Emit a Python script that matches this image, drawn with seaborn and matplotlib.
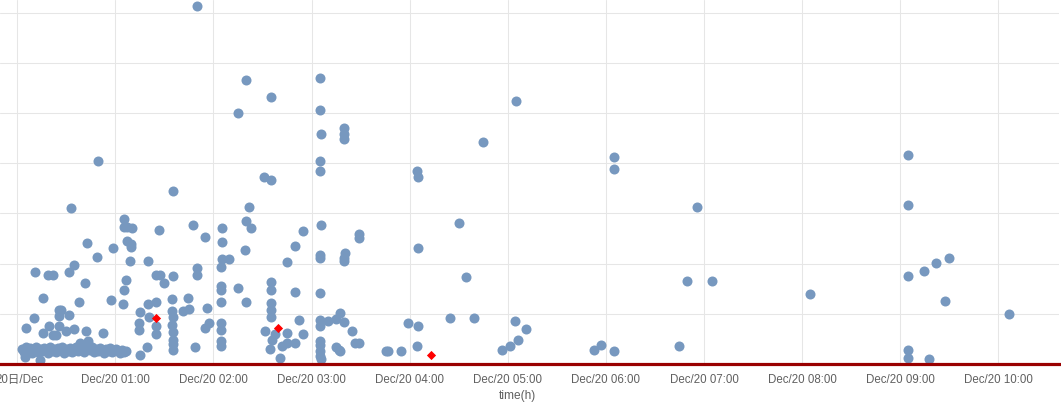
import matplotlib
matplotlib.use("Agg")
import matplotlib.pyplot as plt
import matplotlib.transforms as mtransforms
import seaborn as sns
import pandas as pd

# ---- data: time in hours after 00:00 (Dec 20), value on the y scale ----
blue_time = [
    # left area
    0.075, 0.228, 0.086, 0.177, 0.167, 0.259, 0.259, 0.316, 0.367, 0.323,
    0.422, 0.367, 0.391, 0.422, 0.449, 0.428, 0.524, 0.493, 0.578, 0.527,
    0.578, 0.544, 0.626, 0.690, 0.700, 0.707, 0.809, 0.820, 0.874, 0.955,
    0.972, 0.639, 0.724,
    # dense band near the bottom
    0.048, 0.068, 0.089, 0.109, 0.129, 0.150, 0.170, 0.191, 0.211, 0.231,
    0.252, 0.272, 0.293, 0.313, 0.333, 0.354, 0.374, 0.394, 0.415, 0.435,
    0.456, 0.476, 0.496, 0.517, 0.537, 0.558, 0.578, 0.598, 0.619, 0.639,
    0.660, 0.680, 0.700, 0.721, 0.741, 0.761, 0.782, 0.802, 0.823, 0.843,
    0.863, 0.884, 0.904, 0.925, 0.945, 0.965, 0.986, 1.006, 1.027, 1.047,
    1.067, 1.088, 1.108,
    # 01:00 - 01:30
    1.077, 1.085, 1.088, 1.115, 1.166, 1.115, 1.159, 1.159, 1.108, 1.088,
    1.149,
    1.241, 1.241, 1.251, 1.251, 1.319, 1.329, 1.329, 1.343, 1.411, 1.455,
    1.411, 1.411, 1.411, 1.441, 1.492,
    # 01:30 - 02:00
    1.584, 1.587, 1.577, 1.577, 1.584, 1.577, 1.584, 1.584, 1.584, 1.584,
    1.689, 1.750, 1.737, 1.788, 1.811, 1.832, 1.832, 1.832, 1.913, 1.913,
    1.954, 1.931,
    # 02:00 - 02:30
    2.084, 2.084, 2.084, 2.158, 2.076, 2.076, 2.076, 2.073, 2.080, 2.080,
    2.080, 2.080, 2.247, 2.247, 2.328, 2.328, 2.318, 2.328, 2.359, 2.382,
    # 02:30 - 03:00
    2.512, 2.586, 2.586, 2.586, 2.586, 2.586, 2.586, 2.586, 2.522, 2.630,
    2.596, 2.576, 2.678, 2.695, 2.746, 2.746, 2.746, 2.828, 2.828, 2.828,
    2.872, 2.909, 2.909,
    # 03:00 - 03:30
    3.083, 3.083, 3.093, 3.083, 3.083, 3.093, 3.083, 3.083, 3.083, 3.083,
    3.083, 3.167, 3.249, 3.289, 3.327, 3.412, 3.083, 3.083, 3.083, 3.083,
    3.093, 3.249, 3.275, 3.442, 3.486, 3.327, 3.327, 3.327, 3.337, 3.327,
    3.327, 3.289, 3.486, 3.486,
    # 03:45 - 05:15
    3.758, 3.782, 3.911, 3.983, 4.071, 4.082, 4.082, 4.082, 4.071, 4.408,
    4.500, 4.571, 4.655, 4.744, 4.939, 5.019, 5.101, 5.073, 5.186, 5.081,
    # 05:50 - 07:10
    5.876, 5.950, 6.083, 6.083, 6.083, 6.742, 6.824, 6.932, 7.082,
    # 08:00 onwards
    8.080, 9.077, 9.077, 9.077, 9.243, 9.362, 9.494, 9.454, 10.109, 9.077,
    9.077, 9.291,
]
blue_value = [
    # left area
    0.126, 0.080, 0.706, 1.826, 0.906, 1.306, 0.606, 1.766, 1.766, 0.746,
    0.746, 0.580, 0.580, 1.074, 1.074, 0.946, 0.966, 0.646, 0.686, 1.826,
    1.980, 3.100, 1.226, 1.606, 0.646, 2.414, 2.134, 4.046, 0.606, 1.280,
    2.306, 0.406, 0.460,
    # dense band near the bottom
    0.30, 0.24, 0.34, 0.26, 0.32, 0.22, 0.28, 0.34, 0.24, 0.30,
    0.26, 0.32, 0.28, 0.22, 0.34, 0.26, 0.30, 0.24, 0.32, 0.28,
    0.34, 0.22, 0.30, 0.26, 0.32, 0.24, 0.28, 0.34, 0.26, 0.30,
    0.36, 0.24, 0.32, 0.40, 0.28, 0.34, 0.24, 0.30, 0.26, 0.32,
    0.28, 0.22, 0.30, 0.26, 0.32, 0.24, 0.28, 0.30, 0.26, 0.22,
    0.28, 0.24, 0.26,
    # 01:00 - 01:30
    1.186, 2.886, 2.726, 2.726, 2.706, 2.446, 2.394, 2.340, 1.666, 1.480,
    2.046,
    0.820, 0.666, 1.026, 0.180, 0.326, 2.046, 1.186, 0.926, 1.766, 1.766,
    1.226, 0.760, 0.594, 2.666, 1.620,
    # 01:30 - 02:00
    3.440, 1.746, 1.286, 1.060, 0.926, 0.780, 0.640, 0.480, 0.400, 0.266,
    1.054, 1.086, 1.306, 2.766, 0.326, 7.146, 1.906, 1.766, 2.526, 0.714,
    0.806, 1.106,
    # 02:00 - 02:30
    2.706, 2.426, 2.100, 2.100, 1.940, 1.560, 1.474, 1.226, 0.806, 0.680,
    0.460, 0.360, 5.006, 1.506, 5.666, 2.846, 2.266, 1.226, 3.120, 2.706,
    # 02:30 - 03:00
    3.720, 3.660, 5.326, 1.626, 1.480, 1.214, 1.080, 0.940, 0.646, 0.594,
    0.474, 0.286, 0.106, 0.354, 0.606, 0.414, 2.040, 0.414, 1.440, 2.346,
    0.880, 0.586, 2.640,
    # 03:00 - 03:30
    5.714, 5.066, 4.586, 4.060, 3.846, 2.766, 2.166, 2.114, 1.420, 0.880,
    0.760, 0.846, 0.886, 1.020, 0.826, 0.660, 0.460, 0.374, 0.260, 0.154,
    0.094, 0.326, 0.274, 0.414, 0.414, 4.706, 4.594, 4.486, 2.214, 2.114,
    2.060, 0.260, 2.594, 2.520,
    # 03:45 - 05:15
    0.260, 0.260, 0.260, 0.820, 3.854, 3.726, 2.306, 0.746, 0.346, 0.906,
    2.820, 1.740, 0.914, 4.420, 0.280, 0.360, 0.466, 0.854, 0.694, 5.246,
    # 05:50 - 07:10
    0.266, 0.374, 0.246, 4.126, 3.880, 0.346, 1.646, 3.120, 1.660,
    # 08:00 onwards
    1.386, 4.174, 3.160, 1.760, 1.846, 2.006, 2.106, 1.246, 0.986, 0.266,
    0.114, 0.086,
]
red_time = [1.411, 2.657, 4.214]
red_value = [0.906, 0.704, 0.164]

tick_hours = [0, 1, 2, 3, 4, 5, 6, 7, 8, 9, 10]
tick_labels = ["20日/Dec", "Dec/20 01:00", "Dec/20 02:00", "Dec/20 03:00",
               "Dec/20 04:00", "Dec/20 05:00", "Dec/20 06:00", "Dec/20 07:00",
               "Dec/20 08:00", "Dec/20 09:00", "Dec/20 10:00"]
y_grid = [0, 1, 2, 3, 4, 5, 6, 7]

# ---- styling ----
sns.set_style("white")
plt.rcParams["font.family"] = ["Liberation Sans", "Noto Sans CJK SC", "DejaVu Sans"]

fig = plt.figure(figsize=(10.61, 4.04), dpi=100)
bottom = (404 - 363.5) / 404
ax = fig.add_axes([0, bottom, 1059 / 1061, 1 - bottom])

blue_df = pd.DataFrame({"time": blue_time, "value": blue_value})
red_df = pd.DataFrame({"time": red_time, "value": red_value})

sns.scatterplot(data=blue_df, x="time", y="value", ax=ax, color="#7798BF",
                s=52, linewidth=0, zorder=2)
sns.scatterplot(data=red_df, x="time", y="value", ax=ax, color="#FF0000",
                marker="D", s=22, linewidth=0, zorder=3)

ax.set_xlim(-0.1764, 10.619)
ax.set_ylim(0, 7.27)

ax.set_xticks(tick_hours)
ax.set_xticklabels(tick_labels)
ax.set_yticks(y_grid)
ax.set_yticklabels([])
ax.tick_params(axis="y", length=0)
ax.tick_params(axis="x", direction="out", length=6.2, width=3.0,
               color="#C8D4E8", pad=1.5, labelsize=8.3, labelcolor="#606060")

# nudge the first (partly clipped) label a little to the right, as in the reference
first = ax.get_xticklabels()[0]
first.set_transform(first.get_transform() +
                    mtransforms.ScaledTranslation(2 / 100, 0, fig.dpi_scale_trans))

ax.set_axisbelow(True)
ax.grid(True, color="#E6E6E6", linewidth=0.75)

for side in ("top", "left", "right"):
    ax.spines[side].set_visible(False)
ax.spines["bottom"].set_color("#990000")
ax.spines["bottom"].set_linewidth(2.3)
ax.spines["bottom"].set_zorder(4)

ax.set_ylabel("")
ax.set_xlabel("time(h)", fontsize=8.6, color="#606060")
ax.xaxis.set_label_coords(0.4887, -0.072)
ax.xaxis.label.set_va("top")

fig.savefig("out.png", dpi=100)
